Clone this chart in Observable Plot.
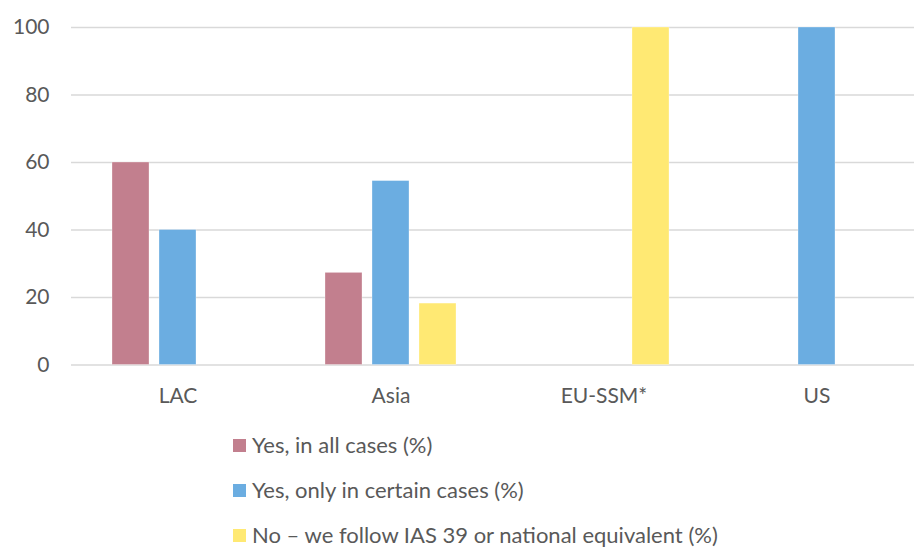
<!DOCTYPE html>
<html>
<head>
<meta charset="utf-8">
<script src="https://cdn.jsdelivr.net/npm/d3@7"></script>
<script src="https://cdn.jsdelivr.net/npm/@observablehq/plot@0.6"></script>
<style>
  body { margin: 0; background: #fff; font-family: Lato, "Open Sans", sans-serif; overflow: hidden; }
  #chart svg { display: block; }
  .legend { position: relative; margin-left: 233px; margin-top: 3px; }
  .legend .item { display: flex; align-items: center; height: 45px; font-size: 22px; line-height: 1.1; color: #595959; }
  .legend .sw { width: 13px; height: 13px; margin-right: 6px; flex: none; }
</style>
</head>
<body>
<div id="chart"></div>
<div class="legend" id="legend"></div>
<script>
// Regions on the horizontal axis
const regions = ["LAC", "Asia", "EU-SSM*", "US"];
// Answer categories (legend entries)
const answers = [
  "Yes, in all cases (%)",
  "Yes, only in certain cases (%)",
  "No \u2013 we follow IAS 39 or national equivalent (%)"
];
const colors = ["#C27F8E", "#6BADE1", "#FFE973"];
// Share of respondents per region, one array per answer
const yesAll     = [60, 27.3, 0, 0];
const yesCertain = [40, 54.5, 0, 100];
const noIAS39    = [0, 18.2, 100, 0];
const yTicks = [0, 20, 40, 60, 80, 100];

const series = [yesAll, yesCertain, noIAS39];
const data = regions.flatMap((region, i) =>
  answers.map((answer, j) => ({region, answer, value: series[j][i]}))
);

const chart = Plot.plot({
  width: 914,
  height: 420,
  marginTop: 27,
  marginBottom: 55.5,
  marginLeft: 69,
  marginRight: 0,
  style: {fontFamily: "Lato, 'Open Sans', sans-serif", fontSize: "21px", color: "#595959", background: "#fff"},
  facet: {data, x: "region"},
  fx: {domain: regions, range: [69.2, 924], padding: 0, label: null, tickSize: 0, tickPadding: 23},
  x: {domain: answers, paddingInner: 0.218, paddingOuter: 0.868, axis: null},
  y: {domain: [0, 100], ticks: yTicks, tickSize: 0, tickPadding: 22, label: null, grid: false},
  color: {domain: answers, range: colors},
  marks: [
    // horizontal gridlines, repeated in every region panel
    Plot.ruleY(yTicks, {stroke: "#D9D9D9", strokeWidth: 1.5}),
    Plot.barY(data, {x: "answer", y: "value", fill: "answer", stroke: "#fff", strokeWidth: 0.5, strokeOpacity: 0.6})
  ]
});
document.getElementById("chart").appendChild(chart);

const legend = document.getElementById("legend");
answers.forEach((a, i) => {
  const item = document.createElement("div");
  item.className = "item";
  item.innerHTML = `<span class="sw" style="background:${colors[i]}"></span><span>${a}</span>`;
  legend.appendChild(item);
});
</script>
</body>
</html>
